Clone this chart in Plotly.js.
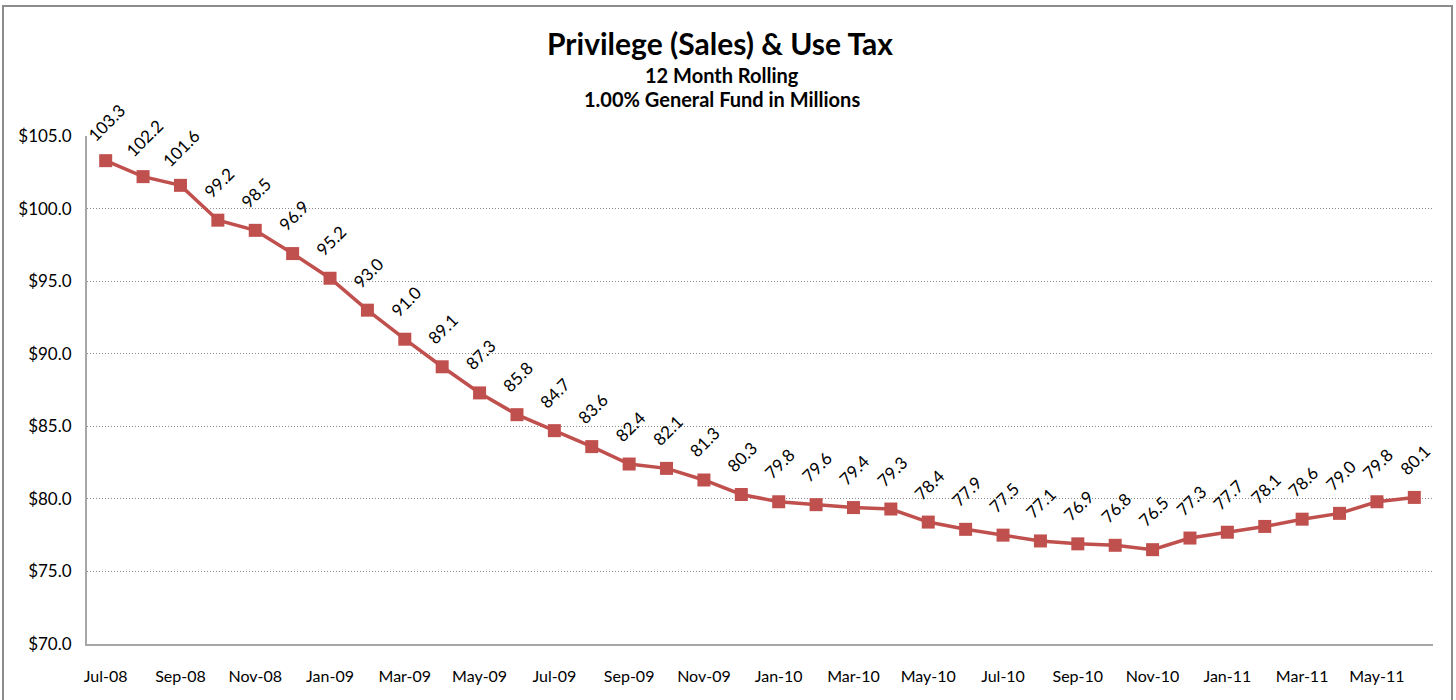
<!DOCTYPE html>
<html>
<head>
<meta charset="utf-8">
<script src="https://cdn.plot.ly/plotly-3.0.1.min.js"></script>
<style>html,body{margin:0;padding:0;background:#fff;}#chart{width:1456px;height:700px;}</style>
</head>
<body>
<div id="chart"></div>
<script>
const months = ["Jul-08","Aug-08","Sep-08","Oct-08","Nov-08","Dec-08","Jan-09","Feb-09","Mar-09","Apr-09","May-09","Jun-09",
"Jul-09","Aug-09","Sep-09","Oct-09","Nov-09","Dec-09","Jan-10","Feb-10","Mar-10","Apr-10","May-10","Jun-10",
"Jul-10","Aug-10","Sep-10","Oct-10","Nov-10","Dec-10","Jan-11","Feb-11","Mar-11","Apr-11","May-11","Jun-11"];
const values = [103.3,102.2,101.6,99.2,98.5,96.9,95.2,93.0,91.0,89.1,87.3,85.8,
84.7,83.6,82.4,82.1,81.3,80.3,79.8,79.6,79.4,79.3,78.4,77.9,
77.5,77.1,76.9,76.8,76.5,77.3,77.7,78.1,78.6,79.0,79.8,80.1];
const yTicks = [70,75,80,85,90,95,100,105];
const yTickText = ["$70.0","$75.0","$80.0","$85.0","$90.0","$95.0","$100.0","$105.0"];
const xTicks = months.filter((m,i)=>i%2===0);

const FONT = "Lato, 'Open Sans', sans-serif";
const L=87, R=23, T=136, B=56;
const W=1456-L-R, H=700-T-B;
const red = "#C0504D";

const labelAnns = months.map((m,i)=>({
  x:m, y:values[i], xref:"x", yref:"y",
  text: values[i].toFixed(1), showarrow:false, textangle:-45,
  yshift:38, xshift:1, font:{family:FONT,size:17,color:"#000"}
}));

const trace = {
  x: months, y: values, type:"scatter", mode:"lines+markers",
  line:{color:red,width:3.5},
  marker:{symbol:"square",size:13,color:red},
  hoverinfo:"x+y"
};

const layout = {
  width:1456, height:700,
  margin:{l:L,r:R,t:T,b:B},
  paper_bgcolor:"#fff", plot_bgcolor:"#fff",
  showlegend:false,
  font:{family:FONT,size:16,color:"#000"},
  title:{text:"<b>Privilege (Sales) & Use Tax</b>", font:{family:FONT,size:30,color:"#000"},
         x:720/1456, xref:"container", xanchor:"center", y:1-44/700, yref:"container", yanchor:"middle"},
  xaxis:{type:"category", range:[-0.5, months.length-0.5], tickvals:xTicks, ticktext:xTicks,
         showline:true, linecolor:"#a6a6a6", linewidth:2, showgrid:false, ticks:"",
         ticklabelstandoff:17, tickfont:{family:FONT,size:16,color:"#000"}, zeroline:false, fixedrange:true},
  yaxis:{range:[70,105], tickvals:yTicks, ticktext:yTickText,
         showline:true, linecolor:"#a6a6a6", linewidth:2, showgrid:true, gridcolor:"#8a8a8a",
         griddash:"1px,2px", gridwidth:1, ticks:"", ticklabelstandoff:10,
         tickfont:{family:FONT,size:17,color:"#000"}, zeroline:false, fixedrange:true},
  annotations: labelAnns.concat([
    {text:"<b>12 Month Rolling</b>", xref:"paper", yref:"paper", x:(722-L)/W, y:(700-B-75)/H,
     xanchor:"center", yanchor:"middle", showarrow:false, font:{family:FONT,size:20,color:"#000"}},
    {text:"<b>1.00% General Fund in Millions</b>", xref:"paper", yref:"paper", x:(722-L)/W, y:(700-B-99)/H,
     xanchor:"center", yanchor:"middle", showarrow:false, font:{family:FONT,size:20,color:"#000"}}
  ]),
  shapes:[
    {type:"rect", xref:"paper", yref:"paper", layer:"below",
     x0:(3-L)/W, x1:(1452-L)/W, y0:(700-B-705)/H, y1:(700-B-6)/H,
     line:{color:"#8c8c8c",width:2}, fillcolor:"rgba(0,0,0,0)"}
  ]
};

Plotly.newPlot("chart",[trace],layout,{displayModeBar:false,staticPlot:true});
</script>
</body>
</html>
